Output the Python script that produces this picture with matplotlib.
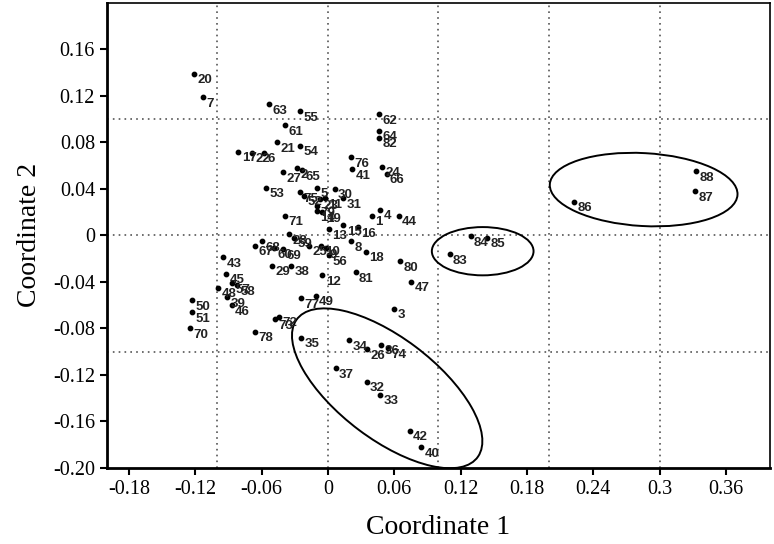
import numpy as np
import matplotlib.pyplot as plt
from matplotlib.patches import Ellipse


labels = list(range(1, 89))
coord1 = [0.040, -0.028, 0.060, 0.047, -0.010, -0.058, -0.113, 0.021, -0.002, -0.006,
          -0.003, -0.005, 0.001, -0.010, 0.014, 0.027, -0.081, 0.034, -0.005, -0.121,
          -0.046, -0.069, -0.007, 0.049, -0.017, 0.035, -0.041, -0.035, -0.051, 0.006,
          0.014, 0.035, 0.047, 0.019, -0.024, 0.048, 0.007, -0.033, -0.091, 0.084,
          0.022, 0.074, -0.095, 0.064, -0.092, -0.087, 0.075, -0.099, -0.011, -0.123,
          -0.123, -0.022, -0.056, -0.025, -0.025, 0.001, -0.087, -0.082, -0.031, -0.049,
          -0.039, 0.046, -0.053, 0.046, -0.023, 0.053, -0.066, -0.060, -0.041, -0.125,
          -0.039, -0.044, -0.048, 0.054, -0.025, 0.021, -0.024, -0.066, -0.010, 0.065,
          0.025, 0.046, 0.110, 0.129, 0.144, 0.223, 0.332, 0.333]
coord2 = [0.017, 0.058, -0.063, 0.022, 0.041, 0.071, 0.119, -0.005, -0.011, -0.009,
          0.032, -0.034, 0.005, 0.021, 0.009, 0.007, 0.072, -0.014, 0.020, 0.139,
          0.080, 0.071, 0.031, 0.059, -0.009, -0.098, 0.054, 0.001, -0.026, 0.040,
          0.032, -0.126, -0.137, -0.090, -0.088, -0.094, -0.114, -0.026, -0.053, -0.182,
          0.057, -0.168, -0.019, 0.017, -0.033, -0.060, -0.040, -0.045, -0.052, -0.056,
          -0.066, 0.034, 0.041, 0.077, 0.107, -0.017, -0.041, -0.043, -0.002, -0.011,
          0.095, 0.104, 0.113, 0.090, 0.056, 0.053, -0.009, -0.005, -0.012, -0.080,
          0.017, -0.070, -0.072, -0.097, 0.037, 0.067, -0.054, -0.083, 0.025, -0.022,
          -0.032, 0.084, -0.016, -0.001, -0.002, 0.029, 0.038, 0.055]

xticks = [-0.18, -0.12, -0.06, 0, 0.06, 0.12, 0.18, 0.24, 0.3, 0.36]
xticklabels = ['-0.18', '-0.12', '-0.06', '0', '0.06', '0.12', '0.18', '0.24', '0.3', '0.36']
yticks = [0.16, 0.12, 0.08, 0.04, 0, -0.04, -0.08, -0.12, -0.16, -0.20]
yticklabels = ['0.16', '0.12', '0.08', '0.04', '0', '-0.04', '-0.08', '-0.12', '-0.16', '-0.20']

# groups circled on the plot: (centre x, centre y, width, height, angle)
groups = [(0.0536, -0.1316, 0.202, 0.088, -35.5),
          (0.140, -0.0137, 0.092, 0.0415, 0),
          (0.2856, 0.0393, 0.170, 0.0627, -3)]

fig = plt.figure(figsize=(7.74, 5.44), dpi=100)
ax = fig.add_axes([0.138, 0.140, 0.857, 0.855])

for v in [-0.1, 0, 0.1, 0.2, 0.3]:
    ax.axvline(v, color='#555555', lw=1.2, ls=(0, (1, 2.5)), zorder=0)
for v in [-0.1, 0, 0.1]:
    ax.axhline(v, color='#555555', lw=1.2, ls=(0, (1, 2.5)), zorder=0)

ax.scatter(coord1, coord2, s=10, c='black', zorder=3)
for lab, x, y in zip(labels, coord1, coord2):
    ax.annotate(str(lab), (x, y), xytext=(2.5, -0.5), textcoords='offset points',
                ha='left', va='top', fontsize=9.5, fontweight='bold',
                color='#222222', family='Liberation Sans')

for cx, cy, w, h, a in groups:
    ax.add_patch(Ellipse((cx, cy), w, h, angle=a, fill=False, color='black', lw=1.4))

ax.set_xlim(-0.2, 0.4)
ax.set_ylim(-0.2, 0.2)
ax.set_xticks(xticks)
ax.set_xticklabels(xticklabels)
ax.set_yticks(yticks)
ax.set_yticklabels(yticklabels)
ax.tick_params(direction='out', length=5, width=1.5, labelsize=14.5)
for lab in ax.get_xticklabels() + ax.get_yticklabels():
    lab.set_family('Liberation Serif')
for s in ax.spines.values():
    s.set_linewidth(1.2)
ax.spines['left'].set_linewidth(2)
ax.spines['bottom'].set_linewidth(2)

ax.set_xlabel('Coordinate 1', family='Liberation Serif', fontsize=20, labelpad=12)
ax.set_ylabel('Coordinate 2', family='Liberation Serif', fontsize=20, labelpad=8)

fig.savefig('out.png', dpi=100)
